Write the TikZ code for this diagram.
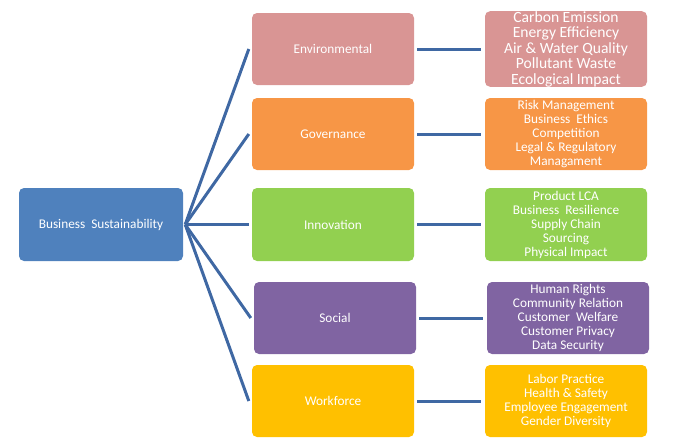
\documentclass[tikz,border=0pt]{standalone}
\usepackage{fontspec}
\setmainfont{Carlito}
\usetikzlibrary{positioning}
\definecolor{bsblue}{HTML}{4F81BD}
\definecolor{envpink}{HTML}{D99594}
\definecolor{govorange}{HTML}{F79646}
\definecolor{inngreen}{HTML}{92D050}
\definecolor{socpurple}{HTML}{8064A2}
\definecolor{workyellow}{HTML}{FFC000}
\definecolor{linkblue}{HTML}{3F68A3}

\begin{document}
\begin{tikzpicture}[box/.style={rounded corners=5pt, minimum width=162pt, minimum height=72pt, text=white, align=center, font=\fontsize{13.3}{14}\selectfont, inner sep=0pt}, link/.style={draw=linkblue, line width=3pt}]
	\useasboundingbox (0pt, 0pt) rectangle (676pt, -447pt);
	\draw (101.0pt, -224.5pt)node[box, fill=bsblue, minimum width=164pt, minimum height=73pt](0){Business\ \ Sustainability};
	\draw (333.0pt, -49.0pt)node[box, fill=envpink](1){Environmental};
	\draw (333.0pt, -134.0pt)node[box, fill=govorange](2){Governance};
	\draw (333.0pt, -224.5pt)node[box, fill=inngreen, minimum height=73pt](3){Innovation};
	\draw (335.0pt, -318.0pt)node[box, fill=socpurple](4){Social};
	\draw (333.0pt, -401.0pt)node[box, fill=workyellow](5){Workforce};
	\draw (566.0pt, -49.0pt)node[box, fill=envpink, font=\fontsize{15.6}{15.5}\selectfont](6){Carbon Emission\\Energy Efficiency\\Air \& Water Quality\\Pollutant Waste\\Ecological Impact};
	\draw (566.0pt, -134.0pt)node[box, fill=govorange](7){Risk Management\\Business\ \ Ethics\\Competition\\Legal \& Regulatory\\Managament};
	\draw (566.0pt, -224.5pt)node[box, fill=inngreen, minimum height=73pt](8){Product LCA\\Business\ \ Resilience\\Supply Chain\\Sourcing\\Physical Impact};
	\draw (568.0pt, -318.0pt)node[box, fill=socpurple](9){Human Rights\\Community Relation\\Customer\ \ Welfare\\Customer Privacy\\Data Security};
	\draw (566.0pt, -401.0pt)node[box, fill=workyellow](10){Labor Practice\\Health \& Safety\\Employee Engagement\\Gender Diversity};
	\coordinate (hub) at ([xshift=2pt]0.east);
	\foreach \i/\j in {1/6, 2/7, 3/8, 4/9, 5/10}{
		\path[link] (hub) -- ([xshift=-3pt]\i.west);
		\path[link] ([xshift=3pt]\i.east) -- ([xshift=-4pt]\j.west);
	}
	\end{tikzpicture}
\end{document}
